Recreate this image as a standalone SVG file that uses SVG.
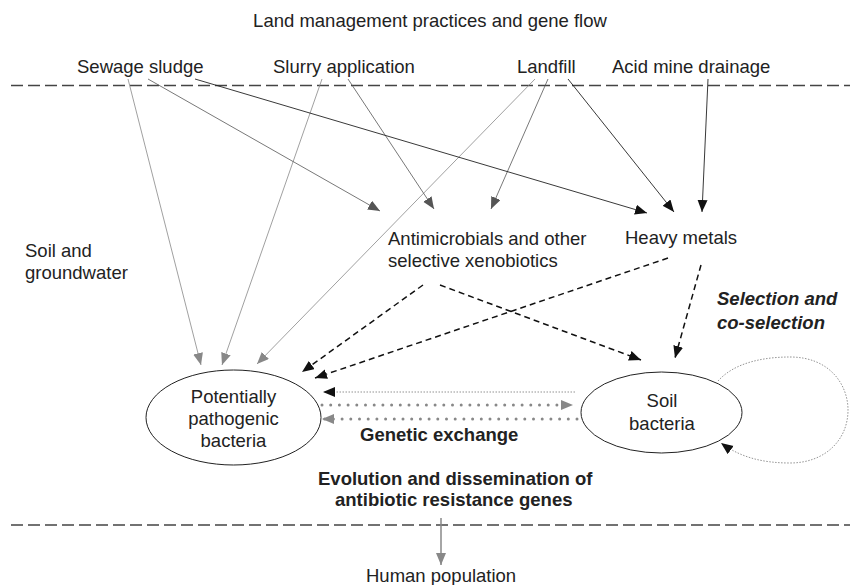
<svg xmlns="http://www.w3.org/2000/svg" width="850" height="585" viewBox="0 0 850 585">
<defs>
<style>
text{font-family:"Liberation Sans",Arial,sans-serif;font-size:18.5px;fill:#222}
.b{font-weight:bold}
.bi{font-weight:bold;font-style:italic}
.sep{stroke:#444;stroke-width:1.5;stroke-dasharray:12 5;fill:none}
.g{stroke:#888;stroke-width:0.8;fill:none}
.d{stroke:#555;stroke-width:0.8;fill:none}
.k{stroke:#222;stroke-width:0.9;fill:none}
.dash{stroke:#111;stroke-width:1.5;stroke-dasharray:6 4;fill:none}
.thin{stroke:#777;stroke-width:0.8;stroke-dasharray:1.5 1.5;fill:none}
.dots{stroke:#888;stroke-width:3;stroke-dasharray:0 8.7;stroke-linecap:round;fill:none}
.node{stroke:#222;stroke-width:1;fill:#fff}
</style>
<marker id="mg" markerUnits="userSpaceOnUse" markerWidth="13" markerHeight="11" refX="12" refY="5" orient="auto"><path d="M0,0 L12,5 L0,10 z" fill="#888"/></marker>
<marker id="md" markerUnits="userSpaceOnUse" markerWidth="13" markerHeight="11" refX="12" refY="5" orient="auto"><path d="M0,0 L12,5 L0,10 z" fill="#555"/></marker>
<marker id="mk" markerUnits="userSpaceOnUse" markerWidth="13" markerHeight="11" refX="12" refY="5" orient="auto"><path d="M0,0 L12,5 L0,10 z" fill="#111"/></marker>
</defs>
<rect width="850" height="585" fill="#fff"/>
<text x="430" y="27" text-anchor="middle">Land management practices and gene flow</text>
<line class="sep" x1="11" y1="85.5" x2="850" y2="85.5"/>
<line class="sep" x1="11" y1="525" x2="850" y2="525"/>
<g id="sewage"><text x="77" y="73">Sewage sludge</text></g>
<g id="slurry"><text x="273" y="73">Slurry application</text></g>
<g id="landfill"><text x="517" y="73">Landfill</text></g>
<g id="acid"><text x="612" y="73">Acid mine drainage</text></g>
<g id="soil-label"><text x="25" y="257">Soil and</text><text x="25" y="279">groundwater</text></g>
<g id="antimicrobials"><text x="388" y="245">Antimicrobials and other</text><text x="388" y="267">selective xenobiotics</text></g>
<g id="heavy"><text x="625" y="244">Heavy metals</text></g>
<g id="selection"><text class="bi" x="717" y="305">Selection and</text><text class="bi" x="717" y="329">co-selection</text></g>
<g id="pathogenic"><ellipse class="node" cx="233.5" cy="417.5" rx="87.5" ry="47.5"/><text x="233.5" y="403" text-anchor="middle">Potentially</text><text x="233.5" y="425" text-anchor="middle">pathogenic</text><text x="233.5" y="447" text-anchor="middle">bacteria</text></g>
<g id="soilbacteria"><ellipse class="node" cx="661.5" cy="412.5" rx="80.5" ry="40.5"/><text x="662" y="407" text-anchor="middle">Soil</text><text x="662" y="430" text-anchor="middle">bacteria</text></g>
<g id="genetic"><text class="b" x="360" y="441">Genetic exchange</text></g>
<g id="evolution"><text class="b" x="318" y="485">Evolution and dissemination of</text><text class="b" x="335" y="506">antibiotic resistance genes</text></g>
<g id="human"><text x="366" y="582">Human population</text></g>
<g id="connectors">
<line class="g" x1="128" y1="79" x2="201" y2="365" marker-end="url(#mg)"/>
<line class="g" x1="322" y1="79" x2="222" y2="365" marker-end="url(#mg)"/>
<line class="g" x1="535" y1="79" x2="257" y2="364" marker-end="url(#mg)"/>
<line class="d" x1="148" y1="79" x2="380" y2="211" marker-end="url(#md)"/>
<line class="d" x1="348" y1="79" x2="434" y2="209" marker-end="url(#md)"/>
<line class="d" x1="548" y1="79" x2="491" y2="209" marker-end="url(#md)"/>
<line class="k" x1="195" y1="79" x2="647" y2="213" marker-end="url(#mk)"/>
<line class="k" x1="568" y1="79" x2="674" y2="212" marker-end="url(#mk)"/>
<line class="k" x1="708" y1="79" x2="702" y2="212" marker-end="url(#mk)"/>
<line class="dash" x1="423" y1="285" x2="302" y2="372" marker-end="url(#mk)"/>
<line class="dash" x1="440" y1="285" x2="641" y2="360" marker-end="url(#mk)"/>
<line class="dash" x1="668" y1="258" x2="315" y2="378" marker-end="url(#mk)"/>
<line class="dash" x1="701" y1="265" x2="675" y2="358" marker-end="url(#mk)"/>
<line class="thin" x1="575" y1="392" x2="323" y2="392" marker-end="url(#mk)"/>
<line class="dots" x1="322" y1="405" x2="573" y2="405" marker-end="url(#mg)"/>
<line class="dots" x1="577" y1="419" x2="322" y2="419" marker-end="url(#mg)"/>
<path class="thin" d="M718,381 C735,362 765,357 790,357 C830,357 848,385 848,410 C848,440 825,463 790,463 C762,463 740,457 721,443" marker-end="url(#mk)"/>
<line stroke="#888" stroke-width="1.5" x1="441" y1="518" x2="441" y2="565" marker-end="url(#mg)"/>
</g>
</svg>
